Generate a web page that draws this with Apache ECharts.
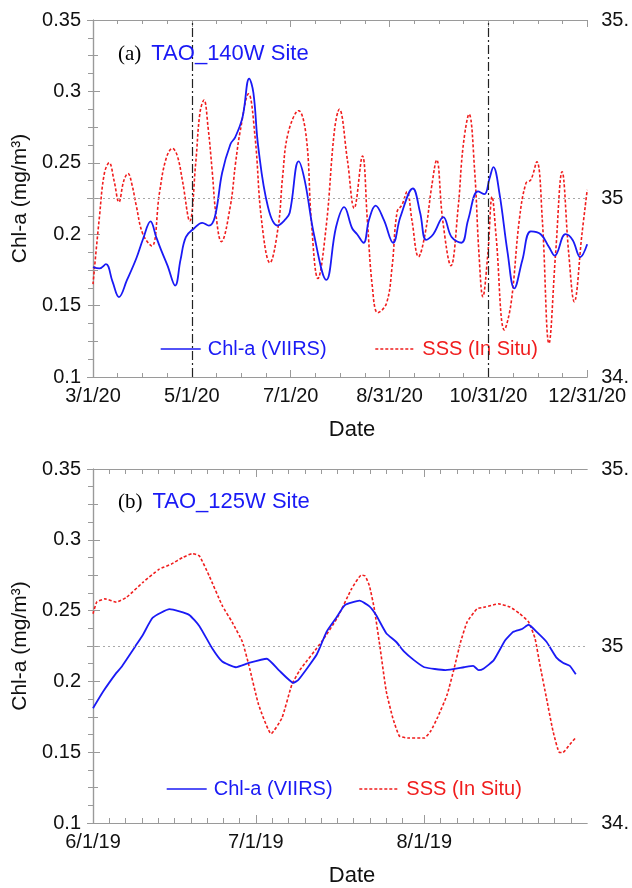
<!DOCTYPE html>
<html>
<head>
<meta charset="utf-8">
<script src="https://cdn.jsdelivr.net/npm/echarts@6/dist/echarts.min.js"></script>
<style>
  html, body { margin: 0; padding: 0; background: #fff; }
  #main { width: 632px; height: 888px; }
</style>
</head>
<body>
<div id="main"></div>
<script>
// ---- data: [day since start, value] ----
// (a) TAO 140W, day 0 = 3/1/20
const chl140 = [[0,0.177],[4,0.176],[8,0.179],[12,0.167],[16,0.156],[21,0.168],[26.7,0.183],[31,0.197],[35.5,0.209],[39,0.198],[42,0.189],[46,0.178],[50.7,0.164],[54,0.182],[57.3,0.198],[62.3,0.204],[67.4,0.208],[71.5,0.206],[75.2,0.212],[79.7,0.243],[84.8,0.263],[87.8,0.268],[92.3,0.282],[96.4,0.309],[99,0.299],[102,0.261],[108,0.219],[113.9,0.206],[118.4,0.21],[121.4,0.215],[126.9,0.251],[130.6,0.238],[136.7,0.198],[144,0.168],[150,0.205],[155,0.219],[160,0.204],[163,0.2],[167,0.194],[170.3,0.21],[174.4,0.22],[179.5,0.21],[185.2,0.194],[189.7,0.212],[197.4,0.232],[201.9,0.215],[205.6,0.196],[210,0.2],[216.2,0.212],[221.3,0.198],[227.4,0.194],[231.5,0.21],[237.6,0.23],[241.6,0.228],[244.7,0.239],[247.1,0.247],[250.8,0.229],[255.9,0.187],[260,0.162],[265,0.182],[270.2,0.202],[276.3,0.2],[281.4,0.191],[285,0.185],[291.6,0.2],[296,0.196],[300.7,0.184],[305,0.193]];
const sss140 = [[0,34.76],[4,34.95],[7,35.07],[10,35.1],[13,35.05],[16,34.99],[19,35.05],[21.6,35.07],[24,35.04],[26.7,34.98],[30.8,34.9],[36.3,34.867],[41,35.015],[45,35.11],[49,35.14],[52,35.12],[55.2,35.05],[59.7,34.937],[63.4,35.1],[66,35.24],[68.5,35.276],[71,35.2],[73.5,35.08],[76,34.95],[79.2,34.879],[84.7,34.977],[88,35.1],[90.9,35.19],[96,35.293],[100,35.173],[104,34.94],[109.2,34.82],[114.3,34.921],[117,35.06],[120.4,35.183],[126.9,35.246],[131.6,35.173],[134.7,34.94],[138.8,34.776],[143.9,34.921],[149,35.19],[152,35.25],[157,35.108],[161.2,34.973],[166.3,35.119],[169.3,34.94],[172.4,34.753],[175.8,34.68],[181.1,34.706],[184.6,34.809],[187.7,34.963],[190.7,34.982],[193.8,35.019],[196.8,34.94],[200.9,34.837],[205,34.902],[209,35.033],[212.1,35.108],[215.8,34.94],[220.9,34.812],[225.4,34.977],[228.4,35.145],[232.1,35.236],[235.5,35.08],[238.2,34.846],[240.6,34.725],[243.7,34.846],[246.3,35.005],[248.8,34.893],[253.9,34.632],[258,34.706],[263.1,34.94],[267.2,35.043],[270.2,35.052],[273.9,35.103],[277.3,34.94],[281.4,34.594],[285.5,34.846],[289.5,35.075],[293.6,34.846],[297,34.711],[301.8,34.902],[305,35.024]];
// (b) TAO 125W, day 0 = 6/1/19
const chl125 = [[0,0.181],[1.9,0.193],[4.3,0.206],[5.2,0.21],[8,0.226],[9.2,0.233],[11,0.245],[14.1,0.251],[17.7,0.247],[19.6,0.239],[22,0.223],[23.8,0.214],[26.3,0.21],[28.7,0.213],[32,0.216],[34.2,0.208],[36.9,0.199],[37.8,0.201],[41.2,0.219],[43,0.235],[44.8,0.245],[46.4,0.254],[49.1,0.257],[50.9,0.253],[52.1,0.247],[54,0.234],[55.8,0.228],[57.3,0.221],[59.1,0.215],[61,0.21],[64.9,0.208],[68.3,0.21],[70,0.211],[71,0.208],[71.9,0.209],[73.8,0.215],[75.9,0.229],[77.4,0.235],[79,0.237],[80.2,0.24],[81.7,0.235],[83.5,0.228],[85.3,0.217],[86.6,0.213],[87.8,0.211],[88.9,0.205]];
const sss125 = [[0,35.091],[0.7,35.124],[2.2,35.133],[4.3,35.124],[6.2,35.138],[9.2,35.18],[12.2,35.217],[14.4,35.231],[16.5,35.25],[18.3,35.261],[19.6,35.254],[21.4,35.198],[23.8,35.114],[25.6,35.068],[27.5,35.012],[28.7,34.946],[30.5,34.834],[32.8,34.752],[34.8,34.797],[36.6,34.89],[38.1,34.932],[42.1,35.012],[45,35.08],[47.6,35.161],[49.4,35.2],[50.1,35.198],[50.9,35.17],[51.8,35.105],[52.8,35.002],[54,34.872],[55.2,34.797],[56.4,34.746],[57.9,34.74],[61,34.74],[62.2,34.76],[63.5,34.8],[65.2,34.862],[66.5,34.937],[67.7,35.012],[68.9,35.068],[70.7,35.105],[72.2,35.11],[74.7,35.119],[76.8,35.11],[78.6,35.091],[80.2,35.068],[81.4,35.021],[82.3,34.946],[83.5,34.853],[84.7,34.76],[85.9,34.699],[86.5,34.699],[87.8,34.722],[89,34.743]];

// ticks
const xTickDaysA = [0, 61, 122, 183, 244, 305];
const xTickLabelsA = ['3/1/20', '5/1/20', '7/1/20', '8/31/20', '10/31/20', '12/31/20'];
const xTickDaysB = [0, 30, 61];
const xTickLabelsB = ['6/1/19', '7/1/19', '8/1/19'];
const chlTickLabels = ['0.1', '0.15', '0.2', '0.25', '0.3', '0.35'];
const sssTickValues = [34.5, 35, 35.5];
const sssTickLabels = ['34.', '35', '35.'];
const markDaysA = [61, 244];   // dash-dot lines 5/1/20 and 10/31/20
const sssRef = 35;             // dotted reference line

const BLUE = '#1a1af5';
const RED = '#f01d1d';
const FRAME = '#9a9a9a';
const FONT = 'Liberation Sans';

const chart = echarts.init(document.getElementById('main'));

const frameLine = { show: true, lineStyle: { color: FRAME, width: 1.2 } };
const labelStyle = { color: '#111', fontSize: 20, fontFamily: FONT };

function chlLabel(v) {
  return chlTickLabels[Math.round((v - 0.1) / 0.05)] ?? '';
}
function sssLabel(v) {
  const i = sssTickValues.findIndex(t => Math.abs(t - v) < 1e-6);
  return i >= 0 ? sssTickLabels[i] : '';
}

// minor ticks every 3 days from each month start (panel b)
const minorDaysB = [];
xTickDaysB.forEach((d, i) => {
  const end = i + 1 < xTickDaysB.length ? xTickDaysB[i + 1] : 91;
  for (let t = d + 3; t < end - 1; t += 3) minorDaysB.push(t);
});

const xAxisA = (pos, withLabel) => ({
  type: 'value', gridIndex: 0, position: pos, min: 0, max: 305, interval: 61,
  axisLine: frameLine,
  axisTick: { show: true, inside: true, length: 7, lineStyle: { color: FRAME } },
  minorTick: { show: true, splitNumber: 4, length: 4, lineStyle: { color: FRAME } },
  splitLine: { show: false },
  axisLabel: withLabel ? Object.assign({ margin: 9, formatter: v => xTickLabelsA[xTickDaysA.indexOf(v)] ?? '' }, labelStyle) : { show: false },
  name: withLabel ? 'Date' : '',
  nameLocation: 'middle', nameGap: 42,
  nameTextStyle: { fontSize: 22, color: '#111', fontFamily: FONT, padding: [0, 0, 0, 24] }
});

const xAxisB = (pos, major, withLabel) => ({
  type: 'value', gridIndex: 1, position: pos, min: 0, max: 91,
  axisLine: major ? frameLine : { show: false },
  axisTick: { show: true, inside: true, length: major ? 8 : 5, lineStyle: { color: FRAME },
    customValues: major ? xTickDaysB : minorDaysB },
  splitLine: { show: false },
  axisLabel: withLabel ? Object.assign({ margin: 9, customValues: xTickDaysB,
    formatter: v => xTickLabelsB[xTickDaysB.indexOf(v)] ?? '' }, labelStyle) : { show: false },
  name: withLabel ? 'Date' : '',
  nameLocation: 'middle', nameGap: 42,
  nameTextStyle: { fontSize: 22, color: '#111', fontFamily: FONT, padding: [0, 0, 0, 24] }
});

const yChl = (grid) => ({
  type: 'value', gridIndex: grid, position: 'left', min: 0.1, max: 0.35, interval: 0.05,
  axisLine: frameLine,
  axisTick: { show: true, inside: true, length: 7, lineStyle: { color: FRAME } },
  minorTick: { show: true, splitNumber: 2, length: 5, lineStyle: { color: FRAME } },
  splitLine: { show: false },
  axisLabel: Object.assign({ margin: 12, formatter: chlLabel }, labelStyle),
  name: 'Chl-a (mg/m³)', nameLocation: 'middle', nameGap: 51,
  nameTextStyle: { fontSize: 21, color: '#111', fontFamily: FONT }
});

const ySss = (grid) => ({
  type: 'value', gridIndex: grid, position: 'right', min: 34.5, max: 35.5, interval: 0.5,
  axisLine: frameLine,
  axisTick: { show: true, inside: true, length: 6, lineStyle: { color: FRAME } },
  minorTick: { show: true, splitNumber: 10, length: 5, lineStyle: { color: FRAME } },
  splitLine: { show: false },
  axisLabel: Object.assign({ margin: 14, formatter: sssLabel }, labelStyle)
});

const legendData = [
  { name: 'Chl-a (VIIRS)', textStyle: { color: BLUE } },
  { name: 'SSS (In Situ)', textStyle: { color: RED } }
];
const legendBase = {
  orient: 'horizontal', itemWidth: 40, itemHeight: 14, data: legendData,
  selectedMode: false,
  itemStyle: { opacity: 0 },
  lineStyle: { width: 1.4 },
  textStyle: { fontSize: 20, fontFamily: FONT, padding: [0, 0, 0, 2] }
};

const titleRich = {
  p: { fontFamily: 'Liberation Serif', fontSize: 21, fontWeight: 'normal', color: '#000', padding: [0, 10, 0, 0] },
  t: { fontFamily: FONT, fontSize: 22, fontWeight: 'normal', color: BLUE }
};

const chlSeries = (x, y, data, smooth, extra) => Object.assign({
  name: 'Chl-a (VIIRS)', type: 'line', xAxisIndex: x, yAxisIndex: y, data,
  smooth, symbol: 'none', lineStyle: { color: BLUE, width: 1.8 }, itemStyle: { color: BLUE }, z: 4
}, extra || {});

const sssSeries = (x, y, data, smooth) => ({
  name: 'SSS (In Situ)', type: 'line', xAxisIndex: x, yAxisIndex: y, data,
  smooth, symbol: 'none', lineStyle: { color: RED, width: 1.6, type: [3, 2] }, itemStyle: { color: RED }, z: 3,
  markLine: {
    silent: true, symbol: 'none', label: { show: false },
    lineStyle: { color: '#a8a8a8', width: 1.2, type: [2, 3] },
    data: [{ yAxis: sssRef }]
  }
});

chart.setOption({
  animation: false,
  textStyle: { fontFamily: FONT },
  title: [
    { text: '{p|(a)}{t|TAO_140W Site}', left: 113, top: 38, textStyle: { fontWeight: 'normal', rich: titleRich } },
    { text: '{p|(b)}{t|TAO_125W Site}', left: 113, top: 486, textStyle: { fontWeight: 'normal', rich: titleRich } }
  ],
  legend: [
    Object.assign({ left: 155, top: 334, itemGap: 48 }, legendBase),
    Object.assign({ left: 161, top: 774, itemGap: 26 }, legendBase)
  ],
  grid: [
    { left: 93, top: 20, width: 499, height: 357 },
    { left: 93, top: 469, width: 498, height: 357 }
  ],
  xAxis: [
    xAxisA('bottom', true),
    xAxisA('top', false),
    xAxisB('bottom', true, true),
    xAxisB('bottom', false, false),
    xAxisB('top', true, false),
    xAxisB('top', false, false)
  ],
  yAxis: [yChl(0), ySss(0), yChl(1), ySss(1)],
  series: [
    chlSeries(0, 0, chl140, 0.4, {
      markLine: {
        silent: true, symbol: 'none', label: { show: false },
        lineStyle: { color: '#222', width: 1.2, type: [9, 3, 2, 3] },
        data: markDaysA.map(d => ({ xAxis: d }))
      }
    }),
    sssSeries(0, 1, sss140, 0.4),
    chlSeries(2, 2, chl125, 0.15),
    sssSeries(2, 3, sss125, 0.15)
  ]
});

window.addEventListener('resize', () => {
  chart.resize();
});
</script>
</body>
</html>
